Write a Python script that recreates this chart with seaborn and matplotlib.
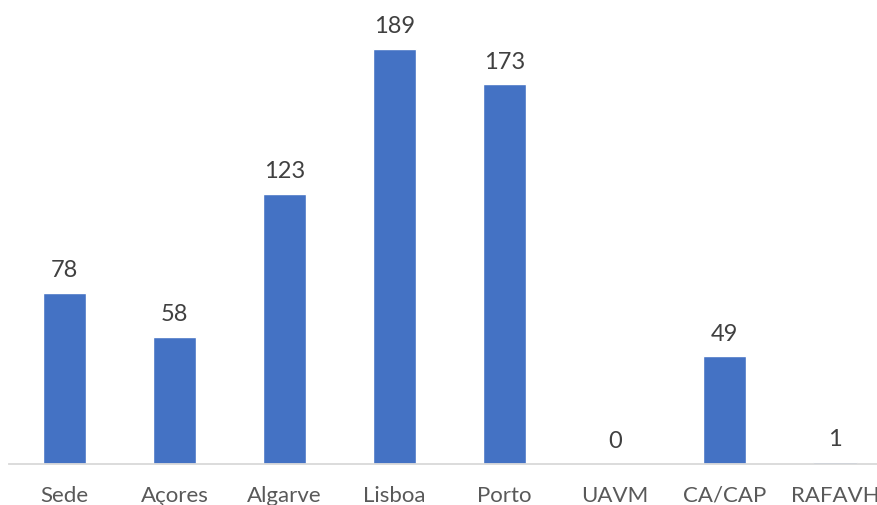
import matplotlib
matplotlib.use("Agg")
import matplotlib.pyplot as plt
import seaborn as sns
import pandas as pd

categories = ["Sede", "Açores", "Algarve", "Lisboa", "Porto", "UAVM", "CA/CAP", "RAFAVH"]
values = [78, 58, 123, 189, 173, 0, 49, 1]

df = pd.DataFrame({"cat": categories, "val": values})

sns.set_theme(style="white")
plt.rcParams["font.family"] = ["Lato", "DejaVu Sans"]

W, H = 878, 506
fig = plt.figure(figsize=(W / 100, H / 100), dpi=100)
x0 = 9.3 / W
x1 = 889.9 / W
y0 = 41 / H
ax = fig.add_axes([x0, y0, x1 - x0, 1 - y0])

sns.barplot(data=df, x="cat", y="val", color="#4472C4", saturation=1,
            width=0.394, ax=ax)

ax.set_xlim(-0.5, 7.5)
ax.set_ylim(0, 465 / 2.196)
ax.set_xlabel("")
ax.set_ylabel("")
ax.set_yticks([])
for s in ["top", "right", "left"]:
    ax.spines[s].set_visible(False)
ax.spines["bottom"].set_color("#D9D9D9")
ax.spines["bottom"].set_linewidth(1.3)
ax.tick_params(axis="x", length=0, pad=15, labelsize=16, labelcolor="#595959")

for i, v in enumerate(values):
    ax.annotate(str(v), (i, v), xytext=(0, 9), textcoords="offset points",
                ha="center", va="bottom", fontsize=17, color="#404040")

fig.savefig("out.png", dpi=100)
